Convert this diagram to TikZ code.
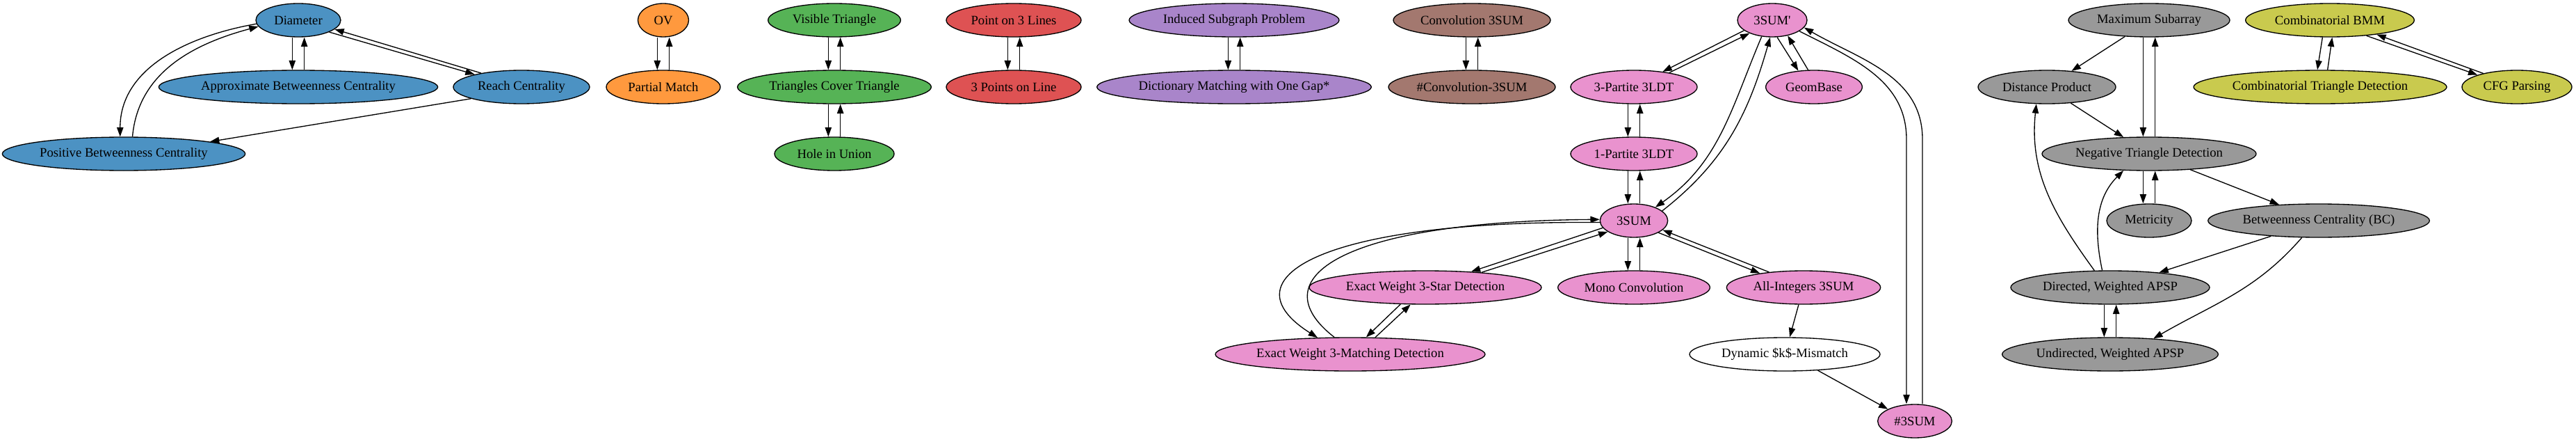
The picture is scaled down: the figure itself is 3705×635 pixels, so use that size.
\documentclass[tikz,border=0pt]{standalone}
\usepackage{fontspec}
\setmainfont{Liberation Serif}[Ligatures=TeXOff]
\usepackage{tikz}
\usetikzlibrary{shapes.geometric}
\usetikzlibrary{arrows.meta}
\definecolor{gvblue}{HTML}{4C92C3}
\definecolor{gvorange}{HTML}{FF993E}
\definecolor{gvgreen}{HTML}{56B356}
\definecolor{gvred}{HTML}{DE5253}
\definecolor{gvviolet}{HTML}{A985CA}
\definecolor{gvbrown}{HTML}{A3786F}
\definecolor{gvpink}{HTML}{E992CE}
\definecolor{gvgrey}{HTML}{999999}
\definecolor{gvolive}{HTML}{C9CA4E}
\tikzstyle{prob}=[draw, ellipse, line width=1pt, inner sep=0pt, minimum height=36pt, font=\fontsize{14pt}{16pt}\selectfont]
\tikzstyle{bprob}=[prob, fill=gvblue]
\tikzstyle{oprob}=[prob, fill=gvorange]
\tikzstyle{gprob}=[prob, fill=gvgreen]
\tikzstyle{rprob}=[prob, fill=gvred]
\tikzstyle{vprob}=[prob, fill=gvviolet]
\tikzstyle{nprob}=[prob, fill=gvbrown]
\tikzstyle{pprob}=[prob, fill=gvpink]
\tikzstyle{kprob}=[prob, fill=gvgrey]
\tikzstyle{yprob}=[prob, fill=gvolive]
\tikzstyle{arr}=[-{Triangle[length=10pt, width=7pt]}, line width=1pt]

\begin{document}
\begin{tikzpicture}[x=0.75pt, y=-0.75pt]
        \useasboundingbox (0, 0) rectangle (3705, 635);
        % centrality
        \node[bprob, minimum width=91.5pt] (diam) at (429, 29) {Diameter};
        \node[bprob, minimum width=301pt] (abc) at (429, 125) {Approximate Betweenness Centrality};
        \node[bprob, minimum width=147pt] (reach) at (750, 125) {Reach Centrality};
        \node[bprob, minimum width=262pt] (pbc) at (178, 221) {Positive Betweenness Centrality};
        \node[oprob, minimum width=54.75pt] (ov) at (954, 29) {OV};
        \node[oprob, minimum width=123pt] (pmatch) at (954, 125) {Partial Match};
        \node[gprob, minimum width=143pt] (vistri) at (1200, 29) {Visible Triangle};
        \node[gprob, minimum width=209pt] (tricov) at (1200, 125) {Triangles Cover Triangle};
        \node[gprob, minimum width=129pt] (hole) at (1200, 221) {Hole in Union};
        \node[rprob, minimum width=145.5pt] (ptlines) at (1458, 29) {Point on 3 Lines};
        \node[rprob, minimum width=145.5pt] (ptsline) at (1458, 125) {3 Points on Line};
        \node[vprob, minimum width=226.5pt] (induced) at (1775, 29) {Induced Subgraph Problem};
        \node[vprob, minimum width=296pt] (dict) at (1775, 125) {Dictionary Matching with One Gap*};
        \node[nprob, minimum width=169.5pt] (conv) at (2117, 29) {Convolution 3SUM};
        \node[nprob, minimum width=180pt] (cconv) at (2117, 125) {\#Convolution-3SUM};
        % 3SUM family
        \node[pprob, minimum width=75pt] (sump) at (2549, 29) {3SUM'};
        \node[pprob, minimum width=136.5pt] (ldt3) at (2350, 125) {3-Partite 3LDT};
        \node[pprob, minimum width=104pt] (geom) at (2609, 125) {GeomBase};
        \node[pprob, minimum width=136.5pt] (ldt1) at (2350, 221) {1-Partite 3LDT};
        \node[pprob, minimum width=73pt] (sum) at (2350, 317) {3SUM};
        \node[pprob, minimum width=250.5pt] (star) at (2050, 413) {Exact Weight 3-Star Detection};
        \node[pprob, minimum width=164pt] (mono) at (2350, 413) {Mono Convolution};
        \node[pprob, minimum width=166pt] (allint) at (2594, 413) {All-Integers 3SUM};
        \node[pprob, minimum width=291pt] (match) at (1942, 509) {Exact Weight 3-Matching Detection};
        \node[prob, fill=white, minimum width=205.5pt] (dynk) at (2567, 509) {Dynamic \$k\$-Mismatch};
        \node[pprob, minimum width=80pt] (csum) at (2754, 605) {\#3SUM};
        % APSP family
        \node[kprob, minimum width=174pt] (maxsub) at (3091, 29) {Maximum Subarray};
        \node[kprob, minimum width=148.5pt] (dist) at (2944, 125) {Distance Product};
        \node[kprob, minimum width=231pt] (negtri) at (3091, 221) {Negative Triangle Detection};
        \node[kprob, minimum width=91.5pt] (metric) at (3091, 317) {Metricity};
        \node[kprob, minimum width=239pt] (bc) at (3335, 317) {Betweenness Centrality (BC)};
        \node[kprob, minimum width=214.5pt] (dapsp) at (3035, 413) {Directed, Weighted APSP};
        \node[kprob, minimum width=233pt] (uapsp) at (3035, 509) {Undirected, Weighted APSP};
        \node[yprob, minimum width=182pt] (bmm) at (3351, 29) {Combinatorial BMM};
        \node[yprob, minimum width=273pt] (ctd) at (3337, 125) {Combinatorial Triangle Detection};
        \node[yprob, minimum width=118.5pt] (cfg) at (3620, 125) {CFG Parsing};
        \coordinate (downA) at (2742, 200);
        \coordinate (upA) at (2765, 200);

        % reductions both ways, one above the other
        \foreach \a/\b in {diam/abc, ov/pmatch, vistri/tricov, tricov/hole, ptlines/ptsline, induced/dict, conv/cconv, ldt3/ldt1, ldt1/sum, sum/mono, maxsub/negtri, negtri/metric, dapsp/uapsp} {
            \draw[arr] ([xshift=-6.5pt]\a.south) -- ([xshift=-6.5pt]\b.north);
            \draw[arr] ([xshift=6.5pt]\b.north) -- ([xshift=6.5pt]\a.south);
        }
        \draw[arr] (diam.-21) -- (reach.165);
        \draw[arr] (reach.161) -- (diam.-14);
        \draw[arr] (diam.185) to[out=190, in=90] (pbc.102);
        \draw[arr] (pbc.63) to[out=85, in=195] (diam.189);
        \draw[arr] (reach.193) -- (pbc.8);

        \draw[arr] (sump.200) -- (ldt3.28);
        \draw[arr] (ldt3.22) -- (sump.210);
        \draw[arr] (sump.-74) -- (geom.134);
        \draw[arr] (geom.109) -- (sump.-45);
        \draw[arr] (sump.237) to[out=247, in=35] (sum.32);
        \draw[arr] (sum.19) to[out=38, in=254] (sump.263);
        \draw[arr] (sump.-22) to[out=-27, in=90] (downA) -- (downA |- csum.north);
        \draw[arr] (upA |- csum.north) -- (upA) to[out=90, in=-30] (sump.-13);
        \draw[arr] (sum.183) .. controls (1900, 316) and (1760, 400) .. (match.153);
        \draw[arr] (match.133) .. controls (1810, 400) and (1930, 318) .. (sum.178);
        \draw[arr] (sum.193) -- (star.19);
        \draw[arr] (star.15) -- (sum.203);
        \draw[arr] (sum.-26) -- (allint.162);
        \draw[arr] (allint.156) -- (sum.-18);
        \draw[arr] (star.214) -- (match.47);
        \draw[arr] (match.34) -- (star.229);
        \draw[arr] (allint.254) -- (dynk.74);
        \draw[arr] (dynk.-26) -- (csum.156);

        \draw[arr] (maxsub.214) -- (dist.33);
        \draw[arr] (dist.-34) -- (negtri.147);
        \draw[arr] (negtri.-21) -- (bc.158);
        \draw[arr] (bc.198) -- (dapsp.17);
        \draw[arr] (bc.225) to[out=229, in=30] (uapsp.20);
        \draw[arr] (dapsp.133) to[out=126, in=264] (dist.238);
        \draw[arr] (dapsp.115) to[out=102, in=225] (negtri.213);

        \draw[arr] ([xshift=-8pt]bmm.south) -- ([xshift=-3pt]ctd.north);
        \draw[arr] ([xshift=8pt]ctd.north) -- ([xshift=2.5pt]bmm.south);
        \draw[arr] (bmm.-23) -- (cfg.163);
        \draw[arr] (cfg.158) -- (bmm.-17);
    \end{tikzpicture}
\end{document}
